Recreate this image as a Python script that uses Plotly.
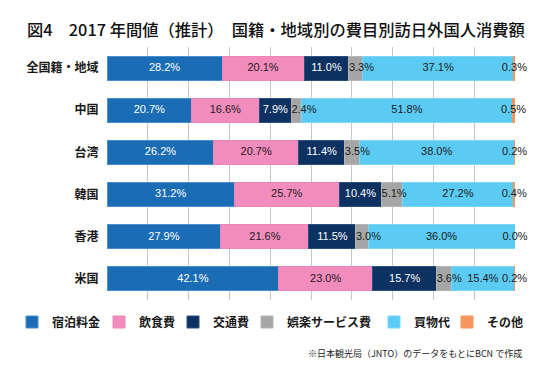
import plotly.graph_objects as go

categories = ["全国籍・地域", "中国", "台湾", "韓国", "香港", "米国"]
series_names = ["宿泊料金", "飲食費", "交通費", "娯楽サービス費", "買物代", "その他"]
lodging = [28.2, 20.7, 26.2, 31.2, 27.9, 42.1]
food = [20.1, 16.6, 20.7, 25.7, 21.6, 23.0]
transport = [11.0, 7.9, 11.4, 10.4, 11.5, 15.7]
entertainment = [3.3, 2.4, 3.5, 5.1, 3.0, 3.6]
shopping = [37.1, 51.8, 38.0, 27.2, 36.0, 15.4]
other = [0.3, 0.5, 0.2, 0.4, 0.0, 0.2]
values = [lodging, food, transport, entertainment, shopping, other]

colors = ["#1a6db5", "#f28cbc", "#0d3161", "#a6a6a6", "#5ccbf4", "#f7955e"]
edge_colors = ["#4a8fd0", "#ec86b6", "#2b4f80", "#b5b5b5", "#7dd6f7", "#f7955e"]
text_colors = ["white", "#1a1a1a", "white", "#1a1a1a", "#1a1a1a", "#1a1a1a"]
legend_widths = [42, 29, 29, 82, 28, 35]

LAT = "Liberation Sans, Arial, Noto Sans CJK JP"
CJK = "Noto Sans CJK JP, Liberation Sans"

fig = go.Figure()

starts = [[0.0] * len(categories)]
for vals in values[:-1]:
    starts.append([s + v for s, v in zip(starts[-1], vals)])

for i, (name, vals) in enumerate(zip(series_names, values)):
    fig.add_trace(go.Bar(
        y=categories, x=vals, name=name, orientation="h",
        marker=dict(color=colors[i], line=dict(color=edge_colors[i], width=1)),
        legendwidth=legend_widths[i],
        hoverinfo="x+name",
    ))

for i, vals in enumerate(values):
    if i == 3:
        xs = starts[i]
        pos = "middle right"
    else:
        xs = [s + v / 2 for s, v in zip(starts[i], vals)]
        pos = "middle center"
    fig.add_trace(go.Scatter(
        y=categories, x=xs, mode="text",
        text=[f"{v:.1f}%" for v in vals],
        textposition=pos,
        textfont=dict(family=LAT, size=11, color=text_colors[i]),
        showlegend=False, hoverinfo="skip", cliponaxis=False,
    ))

fig.update_layout(
    barmode="stack",
    bargap=0.43,
    width=550, height=367,
    margin=dict(l=107, r=35, t=47, b=67, autoexpand=False),
    paper_bgcolor="white", plot_bgcolor="white",
    title=dict(
        text="図4　2017 年間値（推計）　国籍・地域別の費目別訪日外国人消費額",
        xref="container", x=27 / 550, xanchor="left",
        yref="container", y=1 - 30 / 367, yanchor="middle",
        font=dict(family=CJK, size=16.3, color="#111111", weight=500),
    ),
    xaxis=dict(
        range=[0, 100], dtick=10, showgrid=True, gridcolor="#c6c6c6", gridwidth=1,
        showticklabels=False, zeroline=False, showline=False, fixedrange=True,
        automargin=False,
    ),
    yaxis=dict(
        categoryorder="array", categoryarray=categories, autorange="reversed",
        showgrid=False, zeroline=False, ticks="outside", ticklen=5, tickcolor="rgba(0,0,0,0)",
        tickfont=dict(family=CJK, size=12, color="#1a1a1a", weight="bold"),
        automargin=False, fixedrange=True,
    ),
    legend=dict(
        orientation="h", xref="paper", yref="paper",
        x=(12 - 107) / 408, xanchor="left",
        y=(300 - 322) / 253, yanchor="middle",
        font=dict(family=CJK, size=12, color="#1a1a1a", weight="bold"),
        traceorder="normal", itemclick=False,
    ),
    showlegend=True,
)

fig.add_annotation(
    text="※日本観光局（JNTO）のデータをもとにBCN で作成",
    xref="paper", yref="paper", x=(524 - 107) / 408, y=(300 - 353) / 253,
    xanchor="right", yanchor="middle", showarrow=False,
    font=dict(family=CJK, size=9, color="#1a1a1a"),
)

fig.write_html(
    "out.html",
    config={"displayModeBar": False},
    post_script="document.body.style.margin='0';document.body.style.padding='0';",
)
